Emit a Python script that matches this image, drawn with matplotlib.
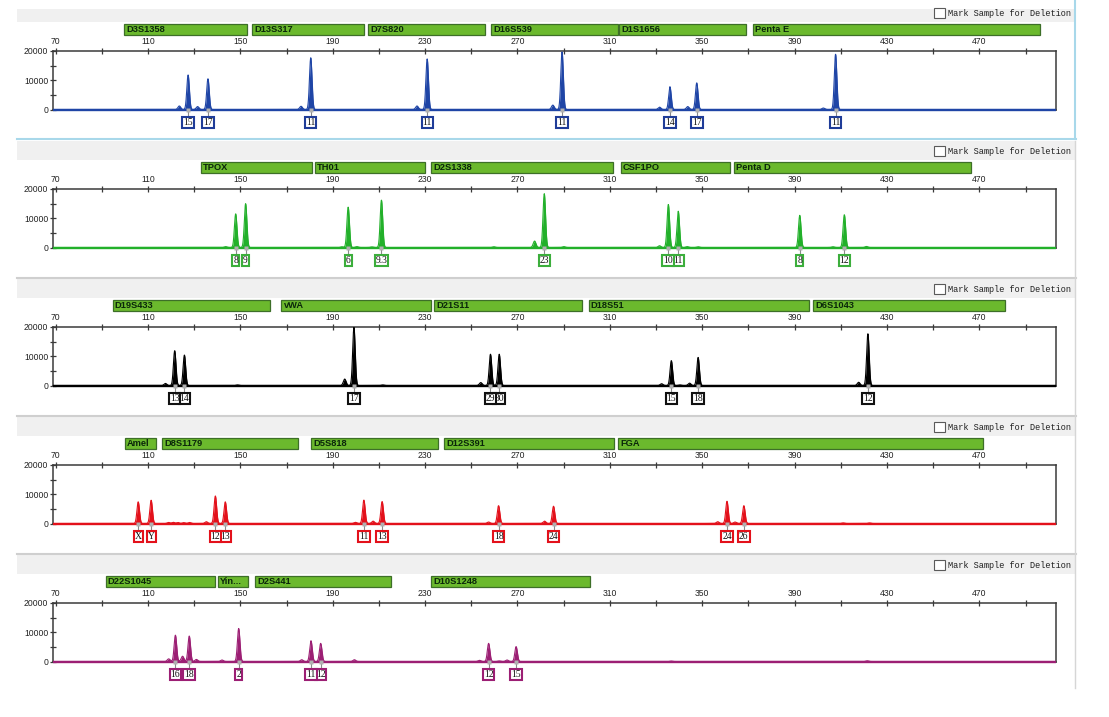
import numpy as np
import matplotlib
matplotlib.use("Agg")
import matplotlib.pyplot as plt
from matplotlib.patches import Rectangle
import matplotlib.transforms as mtransforms

# ---------------- data (sizes in bp, heights in RFU) ----------------
X_MIN, X_MAX = 69, 503
Y_MAX = 20000
X_MAJOR = [70, 110, 150, 190, 230, 270, 310, 350, 390, 430, 470]
X_MINOR = [90, 130, 170, 210, 250, 290, 330, 370, 410, 450, 490]
Y_MAJOR = [0, 10000, 20000]
Y_MINOR = [5000, 15000]

# Panel 1 (blue)
P1_LOCI = ["D3S1358", "D13S317", "D7S820", "D16S539", "D1S1656", "Penta E"]
P1_LOCUS_START = [99.8, 155.1, 205.2, 258.7, 314.0, 371.8]
P1_LOCUS_END = [153.0, 203.7, 255.9, 313.3, 369.0, 496.2]
P1_ALLELES = ["15", "17", "11", "11", "11", "14", "17", "11"]
P1_ALLELE_SIZE = [127.4, 136.0, 180.5, 230.9, 289.3, 336.0, 347.6, 407.7]
P1_ALLELE_RFU = [11800, 10500, 17700, 17300, 19700, 7800, 9100, 18900]
P1_MINOR_SIZE = [123.6, 131.5, 176.3, 226.5, 285.3, 331.5, 343.7, 402.4]
P1_MINOR_RFU = [1200, 1000, 1100, 1200, 1500, 800, 1000, 500]

# Panel 2 (green)
P2_LOCI = ["TPOX", "TH01", "D2S1338", "CSF1PO", "Penta D"]
P2_LOCUS_START = [132.9, 182.3, 232.7, 314.6, 363.9]
P2_LOCUS_END = [181.0, 230.0, 311.2, 362.0, 466.4]
P2_ALLELES = ["8", "9", "6", "9.3", "23", "10", "11", "8", "12"]
P2_ALLELE_SIZE = [148.0, 152.3, 196.7, 211.1, 281.6, 335.3, 339.6, 392.2, 411.5]
P2_ALLELE_RFU = [11500, 15000, 13800, 16200, 18400, 14700, 12400, 11000, 11200]
P2_MINOR_SIZE = [143.7, 194.0, 200.5, 207.0, 259.8, 277.4, 290.1, 331.5, 343.5, 348.2, 406.6, 421.1]
P2_MINOR_RFU = [300, 250, 300, 200, 250, 2200, 300, 600, 300, 250, 250, 350]

# Panel 3 (black)
P3_LOCI = ["D19S433", "vWA", "D21S11", "D18S51", "D6S1043"]
P3_LOCUS_START = [94.7, 167.8, 234.0, 300.8, 397.9]
P3_LOCUS_END = [162.7, 232.7, 298.0, 396.0, 481.1]
P3_ALLELES = ["13", "14", "17", "29", "30", "15", "18", "12"]
P3_ALLELE_SIZE = [121.6, 125.8, 199.2, 258.3, 262.1, 336.6, 348.2, 421.7]
P3_ALLELE_RFU = [11900, 10400, 19900, 10700, 10700, 8500, 9600, 17700]
P3_MINOR_SIZE = [117.6, 148.8, 195.2, 211.7, 254.1, 332.4, 340.3, 344.5, 417.7]
P3_MINOR_RFU = [700, 200, 2200, 200, 1000, 600, 200, 800, 1100]

# Panel 4 (red)
P4_LOCI = ["Amel", "D8S1179", "D5S818", "D12S391", "FGA"]
P4_LOCUS_START = [100.1, 116.1, 180.8, 238.3, 313.7]
P4_LOCUS_END = [113.7, 175.1, 235.8, 311.8, 471.4]
P4_ALLELES = ["X", "Y", "12", "13", "11", "13", "18", "24", "24", "26"]
P4_ALLELE_SIZE = [105.8, 111.4, 139.2, 143.5, 203.5, 211.4, 261.8, 285.6, 360.7, 368.0]
P4_ALLELE_RFU = [7400, 7950, 9400, 7400, 8000, 7500, 6100, 5900, 7600, 6100]
P4_MINOR_SIZE = [119.0, 121.0, 123.0, 125.5, 128.0, 135.3, 199.8, 207.5, 257.5, 281.7, 356.7, 364.2, 411.0, 422.4]
P4_MINOR_RFU = [350, 400, 350, 300, 350, 600, 400, 800, 500, 800, 600, 500, 200, 200]

# Panel 5 (purple)
P5_LOCI = ["D22S1045", "Yin...", "D2S441", "D10S1248"]
P5_LOCUS_START = [91.7, 140.3, 156.4, 232.7]
P5_LOCUS_END = [139.0, 153.3, 215.1, 301.3]
P5_ALLELES = ["16", "18", "2", "11", "12", "12", "15"]
P5_ALLELE_SIZE = [121.9, 127.9, 149.3, 180.6, 184.8, 257.5, 269.4]
P5_ALLELE_RFU = [9000, 8700, 11300, 7100, 6200, 6200, 5100]
P5_MINOR_SIZE = [119.0, 125.0, 131.0, 142.1, 176.6, 199.4, 253.5, 262.1, 265.5, 336.6, 421.4]
P5_MINOR_RFU = [900, 1800, 700, 500, 600, 600, 400, 200, 500, 150, 250]

PANELS = [
    (P1_LOCI, P1_LOCUS_START, P1_LOCUS_END, P1_ALLELES, P1_ALLELE_SIZE, P1_ALLELE_RFU, P1_MINOR_SIZE, P1_MINOR_RFU),
    (P2_LOCI, P2_LOCUS_START, P2_LOCUS_END, P2_ALLELES, P2_ALLELE_SIZE, P2_ALLELE_RFU, P2_MINOR_SIZE, P2_MINOR_RFU),
    (P3_LOCI, P3_LOCUS_START, P3_LOCUS_END, P3_ALLELES, P3_ALLELE_SIZE, P3_ALLELE_RFU, P3_MINOR_SIZE, P3_MINOR_RFU),
    (P4_LOCI, P4_LOCUS_START, P4_LOCUS_END, P4_ALLELES, P4_ALLELE_SIZE, P4_ALLELE_RFU, P4_MINOR_SIZE, P4_MINOR_RFU),
    (P5_LOCI, P5_LOCUS_START, P5_LOCUS_END, P5_ALLELES, P5_ALLELE_SIZE, P5_ALLELE_RFU, P5_MINOR_SIZE, P5_MINOR_RFU),
]
TRACE_COLORS = ["#1f45a6", "#22b02a", "#000000", "#e3111b", "#9c1f74"]
BOX_COLORS = ["#1f3c98", "#3cae3c", "#111111", "#e3111b", "#9c1f74"]

# ---------------- layout (pixels) ----------------
W, H = 1109, 717
PITCH = 138
AX_LEFT, AX_RIGHT = 53.2, 1055.7
AX_TOP, AX_BOTTOM = 51.0, 109.5
AX_H = AX_BOTTOM - AX_TOP

plt.rcParams['font.family'] = ['Liberation Sans', 'DejaVu Sans']
fig = plt.figure(figsize=(W / 100, H / 100), dpi=100)
fig.patch.set_facecolor('white')

bg = fig.add_axes([0, 0, 1, 1], zorder=0)
bg.set_xlim(0, W)
bg.set_ylim(H, 0)
bg.axis('off')

# header bands, borders, checkboxes
for k in range(5):
    off = PITCH * k
    if k == 0:
        bg.add_patch(Rectangle((17, 9.3), 1058, 12.7, facecolor='#f0f0f0', edgecolor='none'))
    else:
        bg.add_patch(Rectangle((17, 2.5 + off), 1058, 19.5, facecolor='#f0f0f0', edgecolor='none'))
    bg.add_patch(Rectangle((933.7, 8.3 + off), 10.9, 10.0, facecolor='white',
                           edgecolor='#5a5a5a', lw=0.8))
    bg.text(947.5, 13.3 + off, "Mark Sample for Deletion", fontsize=6.2,
            family=['Liberation Mono', 'DejaVu Sans Mono'], color='#202020',
            va='center', ha='left')

bg.plot([17, 1076], [139.3, 139.3], color='#a8d8ea', lw=1.5)
bg.plot([1075.3, 1075.3], [0, 139.3], color='#a8d8ea', lw=1.5)
for yy in [277.7, 415.7, 554.0]:
    bg.plot([17, 1076], [yy, yy], color='#cfcfcf', lw=1.5)
bg.plot([1075.3, 1075.3], [140.5, 688], color='#d6d6d6', lw=1.0)

x_grid = np.arange(X_MIN, X_MAX, 0.04)

for k, (loci, lstart, lend, alleles, asize, arfu, msize, mrfu) in enumerate(PANELS):
    off = PITCH * k
    ax = fig.add_axes([AX_LEFT / W, 1 - (AX_BOTTOM + off) / H,
                       (AX_RIGHT - AX_LEFT) / W, AX_H / H], zorder=2)
    ax.set_facecolor('none')
    ax.set_xlim(X_MIN, X_MAX)
    ax.set_ylim(0, Y_MAX)
    col = TRACE_COLORS[k]

    # trace built from allele / minor peak list
    y = np.zeros_like(x_grid)
    for p, h in zip(asize, arfu):
        y += h * np.exp(-0.5 * ((x_grid - p) / 0.55) ** 2)
    for p, h in zip(msize, mrfu):
        y += h * np.exp(-0.5 * ((x_grid - p) / 0.6) ** 2)
    y = np.minimum(y, Y_MAX)
    ax.fill_between(x_grid, 0, y, color=col, lw=0, zorder=3)
    ax.plot(x_grid, y, color=col, lw=0.8, zorder=4)
    ax.plot([X_MIN, X_MAX], [0, 0], color=col, lw=1.7, zorder=5, clip_on=False,
            solid_capstyle='butt')

    # axes styling
    for s in ax.spines.values():
        s.set_color('#3a3a3a')
        s.set_linewidth(1.1)
    ax.xaxis.tick_top()
    ax.set_xticks(X_MAJOR)
    ax.set_xticks(X_MINOR, minor=True)
    ax.set_xticklabels([str(v) for v in X_MAJOR])
    ax.set_yticks(Y_MAJOR)
    ax.set_yticks(Y_MINOR, minor=True)
    ax.set_yticklabels([str(v) for v in Y_MAJOR])
    ax.tick_params(axis='x', which='both', direction='inout', length=4.5, width=0.9,
                   color='#3a3a3a', labelsize=6.2, pad=1.0, labelcolor='#222222')
    ax.tick_params(axis='y', which='both', direction='inout', length=4.5, width=0.9,
                   color='#3a3a3a', labelsize=6.2, pad=1.2, labelcolor='#222222')

    trans = mtransforms.blended_transform_factory(ax.transData, ax.transAxes)

    # locus bars
    y0 = 1 + 15.7 / AX_H
    hh = 11.0 / AX_H
    for name, a, b in zip(loci, lstart, lend):
        ax.add_patch(Rectangle((a, y0), b - a, hh, transform=trans, facecolor='#6bb92d',
                               edgecolor='#3d6f28', lw=0.9, clip_on=False, zorder=6))
        ax.text(a + 0.9, y0 + hh / 2, name, transform=trans, fontsize=6.7,
                fontweight='bold', color='#0a260a', va='center', ha='left',
                clip_on=False, zorder=7)

    # allele call boxes (left box on top)
    order = np.argsort(asize)
    n = len(order)
    for rank, i in enumerate(order):
        p = asize[i]
        ax.plot([p, p], [0, -6.5 / AX_H], transform=trans, color='#8a8a8a',
                lw=0.8, clip_on=False, zorder=5)
        ax.plot([p], [0], transform=trans, marker='s', ms=2.2, color='#b0b0b0',
                mec='none', clip_on=False, zorder=6)
        ax.text(p, -13.2 / AX_H, alleles[i], transform=trans, fontsize=6.9,
                family=['Liberation Serif', 'DejaVu Serif'], color='#111111',
                ha='center', va='center', clip_on=False, zorder=20 + (n - rank),
                bbox=dict(boxstyle='square,pad=0.1', facecolor='white',
                          edgecolor=BOX_COLORS[k], lw=1.5))

fig.savefig("out.png", dpi=100, facecolor='white')
